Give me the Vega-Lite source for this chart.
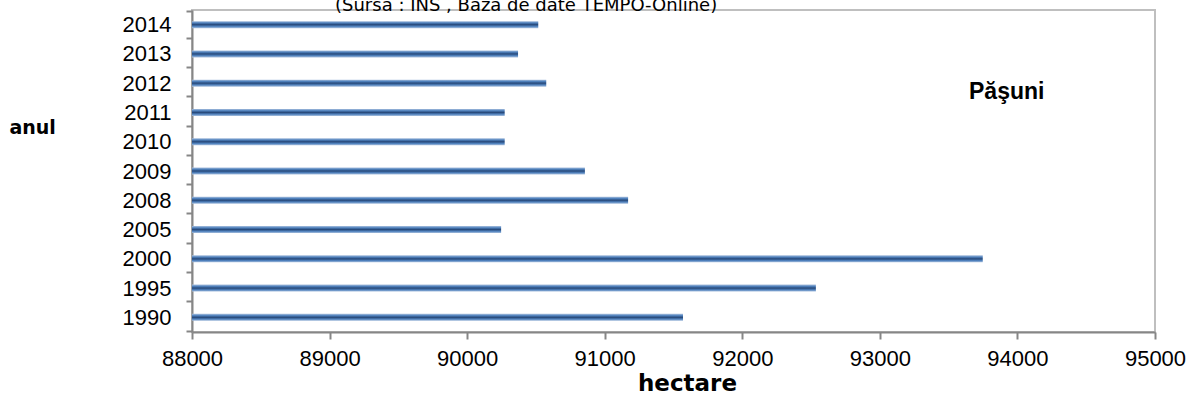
{
  "$schema": "https://vega.github.io/schema/vega-lite/v6.json",
  "width": 963,
  "height": 322,
  "autosize": {"type": "none"},
  "padding": {"left": 192, "top": 10, "right": 32, "bottom": 64},
  "background": "white",
  "title": {
    "text": "(Sursa : INS , Baza de date TEMPO-Online)",
    "anchor": "start",
    "dx": 326,
    "dy": 30,
    "offset": 0,
    "baseline": "alphabetic",
    "font": "DejaVu Sans",
    "fontSize": 18,
    "fontWeight": "normal",
    "color": "black"
  },
  "config": {"view": {"stroke": "#BFBFBF", "strokeWidth": 2}},
  "data": {
    "values": [
      {"an": "1990", "hectare": 91569, "serie": "Păşuni"},
      {"an": "1995", "hectare": 92535, "serie": "Păşuni"},
      {"an": "2000", "hectare": 93748, "serie": "Păşuni"},
      {"an": "2005", "hectare": 90247, "serie": "Păşuni"},
      {"an": "2008", "hectare": 91170, "serie": "Păşuni"},
      {"an": "2009", "hectare": 90856, "serie": "Păşuni"},
      {"an": "2010", "hectare": 90273, "serie": "Păşuni"},
      {"an": "2011", "hectare": 90273, "serie": "Păşuni"},
      {"an": "2012", "hectare": 90575, "serie": "Păşuni"},
      {"an": "2013", "hectare": 90370, "serie": "Păşuni"},
      {"an": "2014", "hectare": 90517, "serie": "Păşuni"}
    ]
  },
  "mark": {
    "type": "bar",
    "size": 7,
    "color": {
      "gradient": "linear",
      "x1": 0, "y1": 0, "x2": 0, "y2": 1,
      "stops": [
        {"offset": 0, "color": "#A9C0DE"},
        {"offset": 0.25, "color": "#4F81BD"},
        {"offset": 0.5, "color": "#27497A"},
        {"offset": 0.75, "color": "#4F81BD"},
        {"offset": 1, "color": "#A9C0DE"}
      ]
    }
  },
  "encoding": {
    "y": {
      "field": "an",
      "type": "nominal",
      "sort": "descending",
      "axis": {
        "title": "anul",
        "titleAngle": 0,
        "titleAlign": "left",
        "titleBaseline": "alphabetic",
        "titleX": -183,
        "titleY": 123,
        "titleFont": "DejaVu Sans",
        "titleFontSize": 19,
        "titleFontWeight": "bold",
        "titleColor": "black",
        "labelFont": "Liberation Sans",
        "labelFontSize": 22,
        "labelColor": "black",
        "tickBand": "extent",
        "tickSize": 6,
        "tickWidth": 2,
        "tickColor": "#868686",
        "labelPadding": 15,
        "domainColor": "#868686",
        "domainWidth": 2,
        "grid": false
      }
    },
    "x": {
      "field": "hectare",
      "type": "quantitative",
      "scale": {"domain": [88000, 95000], "zero": false, "nice": false},
      "axis": {
        "title": "hectare",
        "values": [88000, 89000, 90000, 91000, 92000, 93000, 94000, 95000],
        "format": "d",
        "labelFlush": false,
        "labelFont": "Liberation Sans",
        "labelFontSize": 22,
        "labelColor": "black",
        "labelPadding": 9,
        "tickSize": 7,
        "tickWidth": 2,
        "tickColor": "#868686",
        "domainColor": "#868686",
        "domainWidth": 2,
        "grid": false,
        "titleFont": "DejaVu Sans",
        "titleFontSize": 23,
        "titleFontWeight": "bold",
        "titleColor": "black",
        "titleAlign": "center",
        "titleX": 495,
        "titleY": 58,
        "titleBaseline": "alphabetic"
      }
    },
    "x2": {"datum": 88000},
    "opacity": {
      "field": "serie",
      "type": "nominal",
      "scale": {"range": [1, 1]},
      "legend": {
        "title": null,
        "orient": "none",
        "legendX": 754,
        "legendY": 70,
        "padding": 0,
        "symbolSize": 0,
        "symbolStrokeWidth": 0,
        "labelOffset": 0,
        "labelFont": "Liberation Sans",
        "labelFontSize": 23,
        "labelFontWeight": "bold",
        "labelColor": "black"
      }
    }
  }
}
